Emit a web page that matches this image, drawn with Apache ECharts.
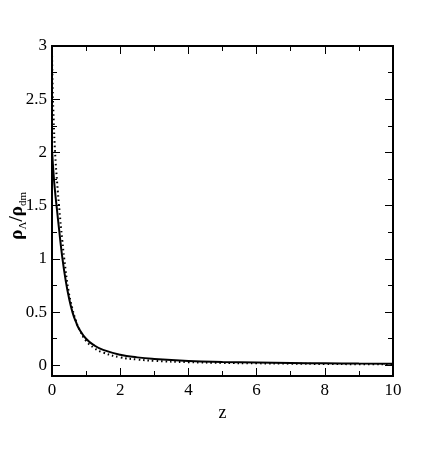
<!DOCTYPE html>
<html>
<head>
<meta charset="utf-8">
<script src="https://cdn.jsdelivr.net/npm/echarts@6/dist/echarts.min.js"></script>
<style>
  html, body { margin: 0; padding: 0; background: #fff; }
  #chart { width: 443px; height: 471px; }
</style>
</head>
<body>
<div id="chart"></div>
<script>
// solid curve (z, rho_L/rho_dm)
var solidZ = [0, 0.05, 0.1, 0.15, 0.2, 0.3, 0.4, 0.5, 0.6, 0.7, 0.8, 1.0, 1.25, 1.5, 2, 2.5, 3, 4, 5, 6, 7, 8, 9, 10]
var solidV = [2.03, 1.78, 1.6, 1.45, 1.3, 1.02, 0.8, 0.63, 0.5, 0.41, 0.34, 0.25, 0.185, 0.145, 0.1, 0.075, 0.06, 0.042, 0.032, 0.026, 0.022, 0.019, 0.017, 0.015]
// dotted curve
var dotZ = [0, 0.02, 0.05, 0.09, 0.15, 0.22, 0.3, 0.36, 0.48, 0.6, 0.7, 0.8, 1.0, 1.25, 1.5, 2, 2.5, 3, 4, 5, 6, 7, 8, 9, 10]
var dotV = [2.95, 2.6, 2.3, 2.0, 1.72, 1.45, 1.18, 1.0, 0.71, 0.53, 0.42, 0.34, 0.23, 0.16, 0.12, 0.075, 0.055, 0.042, 0.03, 0.023, 0.019, 0.016, 0.013, 0.011, 0.01]
var yTicks = [0, 0.5, 1, 1.5, 2, 2.5, 3]
var yMinorTicks = [0.25, 0.75, 1.25, 1.75, 2.25, 2.75]

function pairs(xs, ys) {
  var out = []
  for (var i = 0; i < xs.length; i++) {
    out.push([xs[i], ys[i]])
  }
  return out
}

var font = "'Liberation Serif', 'Times New Roman', 'DejaVu Serif', serif"
var chart = echarts.init(document.getElementById('chart'))

function xAx(pos, showLabel) {
  return {
    type: 'value', position: pos, min: 0, max: 10, interval: 2,
    axisLine: {show: true, onZero: false, lineStyle: {color: '#000', width: 2}},
    axisTick: {show: true, inside: true, length: 8, lineStyle: {color: '#000', width: 1}},
    minorTick: {show: true, splitNumber: 2, length: 5, lineStyle: {color: '#000', width: 1}},
    axisLabel: {show: showLabel, color: '#000', fontFamily: font, fontSize: 17, margin: 6},
    splitLine: {show: false},
    name: showLabel ? 'z' : '',
    nameLocation: 'middle', nameGap: 17,
    nameTextStyle: {color: '#000', fontFamily: font, fontSize: 18}
  }
}

function yAx(pos, values, len, showLabel) {
  return {
    type: 'value', position: pos, min: -0.1, max: 3,
    axisLine: {show: true, onZero: false, lineStyle: {color: '#000', width: 2}},
    axisTick: {show: true, inside: true, length: len, customValues: values, lineStyle: {color: '#000', width: 1}},
    axisLabel: {show: showLabel, customValues: values, color: '#000', fontFamily: font, fontSize: 17, margin: 5},
    splitLine: {show: false}
  }
}

chart.setOption({
  backgroundColor: '#fff',
  animation: false,
  grid: {left: 52, right: 50, top: 46, bottom: 95},
  xAxis: [xAx('bottom', true), xAx('top', false)],
  yAxis: [
    yAx('left', yTicks, 8, true),
    yAx('left', yMinorTicks, 5, false),
    yAx('right', yTicks, 8, false),
    yAx('right', yMinorTicks, 5, false)
  ],
  graphic: [{
    type: 'text',
    left: 8,
    top: 192,
    rotation: Math.PI / 2,
    style: {
      text: '{a|ρ}{s|Λ}{a|/ρ}{s|dm}',
      fill: '#000',
      rich: {
        a: {fontFamily: font, fontSize: 19, fontWeight: 'bold', lineHeight: 19, verticalAlign: 'top'},
        s: {fontFamily: font, fontSize: 11, lineHeight: 11, padding: [10, 0, 0, 0], verticalAlign: 'top'}
      }
    }
  }],
  series: [
    {
      type: 'line', data: pairs(solidZ, solidV), smooth: true, showSymbol: false,
      lineStyle: {color: '#000', width: 2}, clip: true
    },
    {
      type: 'line', data: pairs(dotZ, dotV), smooth: true, showSymbol: false,
      lineStyle: {color: '#000', width: 2, type: [1.5, 3]}, clip: true
    }
  ]
})
</script>
</body>
</html>
